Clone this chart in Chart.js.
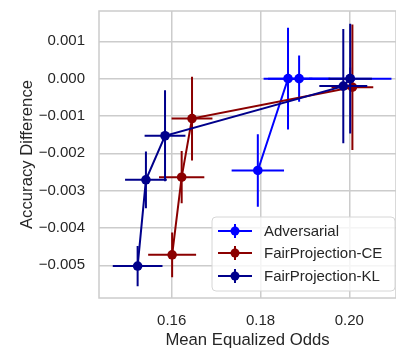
<!DOCTYPE html>
<html>
<head>
<meta charset="utf-8">
<script src="https://cdn.jsdelivr.net/npm/chart.js@4.4.0/dist/chart.umd.min.js"></script>
<style>
  html, body { margin: 0; padding: 0; background: #fff; }
  #wrap { width: 396px; height: 352px; }
</style>
</head>
<body>
<div id="wrap"><canvas id="myChart"></canvas></div>
<script>
  // Adversarial
  const advX = [0.1794, 0.1862, 0.1887, 0.2002];
  const advY = [-0.00246, 0.0, 0.0, 0.0];
  const advXerr = [0.0059, 0.0055, 0.0070, 0.0093];
  const advYerr = [0.00097, 0.00136, 0.00062, 0.0003];

  // FairProjection-CE
  const ceX = [0.1601, 0.16225, 0.16458, 0.2007];
  const ceY = [-0.00472, -0.00264, -0.00107, -0.00023];
  const ceXerr = [0.0054, 0.0051, 0.0046, 0.0047];
  const ceYerr = [0.0006, 0.0007, 0.00112, 0.00168];

  // FairProjection-KL
  const klX = [0.15233, 0.1542, 0.1585, 0.19865, 0.2002];
  const klY = [-0.00502, -0.00271, -0.00153, -0.0002, 0.0];
  const klXerr = [0.0056, 0.0047, 0.0046, 0.0054, 0.0049];
  const klYerr = [0.00054, 0.00076, 0.00122, 0.00153, 0.00147];

  const xTicks = [0.16, 0.18, 0.20];
  const yTicks = [-0.005, -0.004, -0.003, -0.002, -0.001, 0.0, 0.001];

  const seriesNames = ['Adversarial', 'FairProjection-CE', 'FairProjection-KL'];
  const seriesColors = ['#0000ff', '#8b0000', '#00008b'];

  Chart.defaults.font.family = '"Liberation Sans", Arial, sans-serif';
  Chart.defaults.color = '#262626';

  function points(xs, ys) {
    const out = [];
    for (let i = 0; i < xs.length; i++) {
      out.push({x: xs[i], y: ys[i]});
    }
    return out;
  }

  function makeSet(k, xs, ys, xe, ye, order) {
    return {
      label: seriesNames[k],
      data: points(xs, ys),
      errX: xe,
      errY: ye,
      showLine: true,
      borderColor: seriesColors[k],
      backgroundColor: seriesColors[k],
      borderWidth: 2,
      pointRadius: 4.8,
      pointHoverRadius: 4.8,
      pointBorderWidth: 0,
      order: order
    };
  }

  // error bars drawn just under each series' line and markers
  const errorBars = {
    id: 'errorBars',
    beforeDatasetDraw(chart, args) {
      const ds = chart.data.datasets[args.index];
      const xs = chart.scales.x, ys = chart.scales.y;
      const ctx = chart.ctx;
      ctx.save();
      ctx.strokeStyle = ds.borderColor;
      ctx.lineWidth = 2;
      ds.data.forEach((p, i) => {
        const px = xs.getPixelForValue(p.x);
        const py = ys.getPixelForValue(p.y);
        ctx.beginPath();
        ctx.moveTo(xs.getPixelForValue(p.x - ds.errX[i]), py);
        ctx.lineTo(xs.getPixelForValue(p.x + ds.errX[i]), py);
        ctx.moveTo(px, ys.getPixelForValue(p.y - ds.errY[i]));
        ctx.lineTo(px, ys.getPixelForValue(p.y + ds.errY[i]));
        ctx.stroke();
      });
      ctx.restore();
    }
  };

  // light frame round the plot area (seaborn whitegrid spines)
  const frame = {
    id: 'frame',
    beforeDatasetsDraw(chart) {
      const a = chart.chartArea;
      const ctx = chart.ctx;
      ctx.save();
      ctx.strokeStyle = '#cccccc';
      ctx.lineWidth = 1.5;
      ctx.strokeRect(a.left, a.top, a.right - a.left, a.bottom - a.top);
      ctx.restore();
    }
  };

  // legend box in the lower right corner, inside the axes
  const innerLegend = {
    id: 'innerLegend',
    afterDraw(chart) {
      const ctx = chart.ctx;
      const bx = 212, by = 217, bw = 183, bh = 74;
      ctx.save();
      ctx.beginPath();
      ctx.roundRect(bx, by, bw, bh, 4);
      ctx.fillStyle = 'rgba(255,255,255,0.8)';
      ctx.fill();
      ctx.strokeStyle = '#d6d6d6';
      ctx.lineWidth = 1;
      ctx.stroke();
      ctx.font = '15px "Liberation Sans", Arial, sans-serif';
      ctx.textBaseline = 'middle';
      const rows = [231, 253, 276];
      for (let k = 0; k < 3; k++) {
        const y = rows[k];
        ctx.strokeStyle = seriesColors[k];
        ctx.fillStyle = seriesColors[k];
        ctx.lineWidth = 2;
        ctx.beginPath();
        ctx.moveTo(218, y);
        ctx.lineTo(252, y);
        ctx.moveTo(235, y - 7);
        ctx.lineTo(235, y + 7);
        ctx.stroke();
        ctx.beginPath();
        ctx.arc(235, y, 4.5, 0, Math.PI * 2);
        ctx.fill();
        ctx.fillStyle = '#262626';
        ctx.fillText(seriesNames[k], 264, y + 1);
      }
      ctx.restore();
    }
  };

  function fmtY(v) {
    if (Math.abs(v) < 1e-9) return '0.000';
    return (v < 0 ? '\u2212' : '') + Math.abs(v).toFixed(3);
  }

  var canvas = document.getElementById('myChart');
  var setup = {
    type: 'scatter',
    data: {
      datasets: [
        makeSet(0, advX, advY, advXerr, advYerr, 3),
        makeSet(1, ceX, ceY, ceXerr, ceYerr, 2),
        makeSet(2, klX, klY, klXerr, klYerr, 1)
      ]
    },
    options: {
      responsive: true,
      maintainAspectRatio: false,
      animation: false,
      layout: { autoPadding: false, padding: { top: 11, right: 0, left: 0, bottom: 0 } },
      plugins: {
        legend: { display: false },
        tooltip: { enabled: false }
      },
      scales: {
        x: {
          type: 'linear',
          min: 0.14363,
          max: 0.21052,
          afterBuildTicks: (s) => { s.ticks = xTicks.map(v => ({value: v})); },
          afterFit: (s) => { s.height = 54; s.paddingLeft = 0; s.paddingRight = 0; },
          grid: { color: '#cccccc', lineWidth: 1.5, drawTicks: false },
          border: { display: false },
          ticks: {
            padding: 14,
            font: { size: 15 },
            color: '#262626',
            maxRotation: 0,
            callback: (v) => v.toFixed(2)
          },
          title: {
            display: true,
            text: 'Mean Equalized Odds',
            font: { size: 16.7 },
            color: '#262626',
            padding: { top: 0, bottom: 2 }
          }
        },
        y: {
          type: 'linear',
          min: -0.005876,
          max: 0.001812,
          afterBuildTicks: (s) => { s.ticks = yTicks.map(v => ({value: v})); },
          afterFit: (s) => { s.width = 99; s.paddingTop = 0; s.paddingBottom = 0; },
          grid: { color: '#cccccc', lineWidth: 1.5, drawTicks: false },
          border: { display: false },
          ticks: {
            padding: 14,
            font: { size: 15 },
            color: '#262626',
            callback: (v) => fmtY(v)
          },
          title: {
            display: true,
            text: 'Accuracy Difference',
            font: { size: 16.7 },
            color: '#262626',
            padding: { top: 17, bottom: 0 }
          }
        }
      }
    },
    plugins: [errorBars, frame, innerLegend]
  };
  chart = new Chart(canvas, setup);
</script>
</body>
</html>
